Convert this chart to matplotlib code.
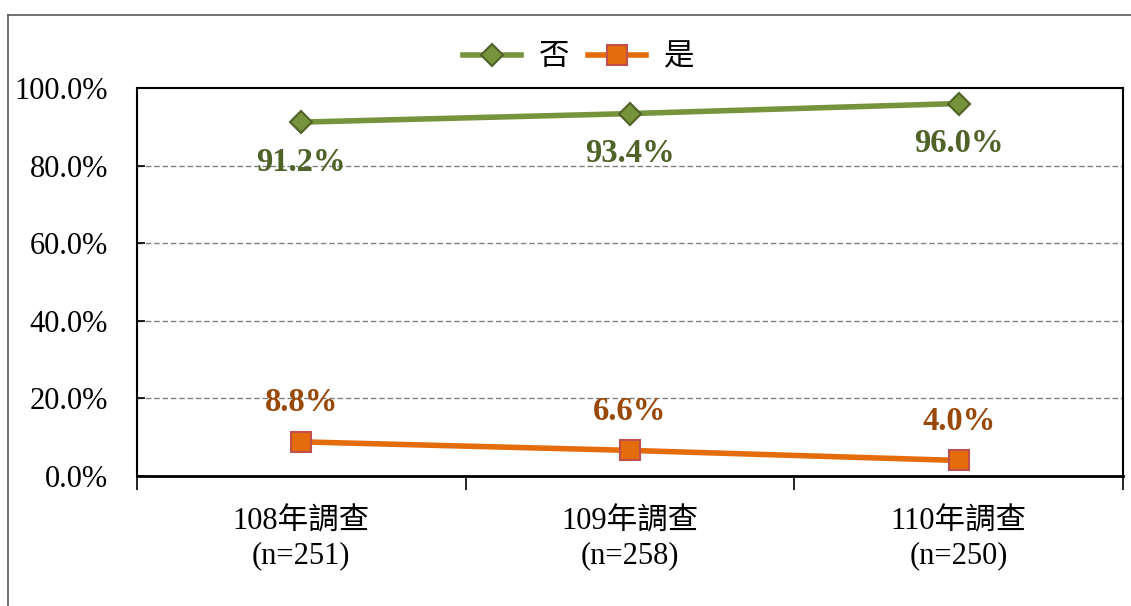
import numpy as np
import matplotlib.pyplot as plt
from matplotlib.lines import Line2D

plt.rcParams['font.family'] = ['Liberation Serif', 'Noto Sans CJK TC', 'DejaVu Sans']

# data
categories = ["108年調查\n(n=251)", "109年調查\n(n=258)", "110年調查\n(n=250)"]
no_vals = [91.2, 93.4, 96.0]
yes_vals = [8.8, 6.6, 4.0]

green_line = "#77933C"
green_dark = "#4F6228"
orange_line = "#E46C0A"
orange_edge = "#C0504D"
orange_text = "#984807"

fig = plt.figure(figsize=(11.31, 6.06), dpi=100)
ax = fig.add_axes([137 / 1131, 1 - 476 / 606, 986 / 1131, 388 / 606])

x = np.arange(len(categories))
ax.plot(x, no_vals, color=green_line, lw=4, marker='D', ms=11,
        mfc=green_line, mec=green_dark, mew=1.5, label="否", zorder=3)
ax.plot(x, yes_vals, color=orange_line, lw=4, marker='s', ms=14,
        mfc=orange_line, mec=orange_edge, mew=1.5, label="是", zorder=3)

for xi, v in zip(x, no_vals):
    ax.annotate(f"{v:.1f}%", (xi, v), xytext=(0, -29), textcoords='offset points',
                ha='center', va='center', fontsize=23.5, fontweight='bold',
                color=green_dark)
for xi, v in zip(x, yes_vals):
    ax.annotate(f"{v:.1f}%", (xi, v), xytext=(0, 28), textcoords='offset points',
                ha='center', va='center', fontsize=23.5, fontweight='bold',
                color=orange_text)

ax.set_xlim(-0.5, len(categories) - 0.5)
ax.set_ylim(0, 100)
ax.set_yticks(np.arange(0, 101, 20))
ax.set_yticklabels([f"{t:.1f}%" for t in np.arange(0, 101, 20)], fontsize=22)
ax.set_xticks(x)
ax.set_xticklabels(categories, fontsize=22, linespacing=1.2)
ax.set_xticks(np.arange(-0.5, len(categories), 1), minor=True)
ax.tick_params(axis='x', which='major', length=0, pad=23)
ax.tick_params(axis='x', which='minor', length=10, width=1.2, direction='out')
ax.tick_params(axis='y', length=6, width=1.2, direction='in', pad=21)

for y in [20, 40, 60, 80]:
    ax.axhline(y, color='#808080', lw=1, ls=(0, (4, 2)), zorder=1)

for side in ['left', 'right', 'top']:
    ax.spines[side].set_linewidth(1.5)
ax.spines['bottom'].set_linewidth(2)

ax.legend(loc='center', bbox_to_anchor=(0.448, 1.078), ncol=2, frameon=False,
          fontsize=22, handlelength=1.9, columnspacing=0.6, handletextpad=0.6)

# outer chart border
fig.add_artist(Line2D([8 / 1131, 1], [1 - 15 / 606, 1 - 15 / 606],
                      color='#595959', lw=1.2, transform=fig.transFigure))
fig.add_artist(Line2D([8 / 1131, 8 / 1131], [0, 1 - 15 / 606],
                      color='#595959', lw=1.2, transform=fig.transFigure))

fig.savefig("out.png", dpi=100)
